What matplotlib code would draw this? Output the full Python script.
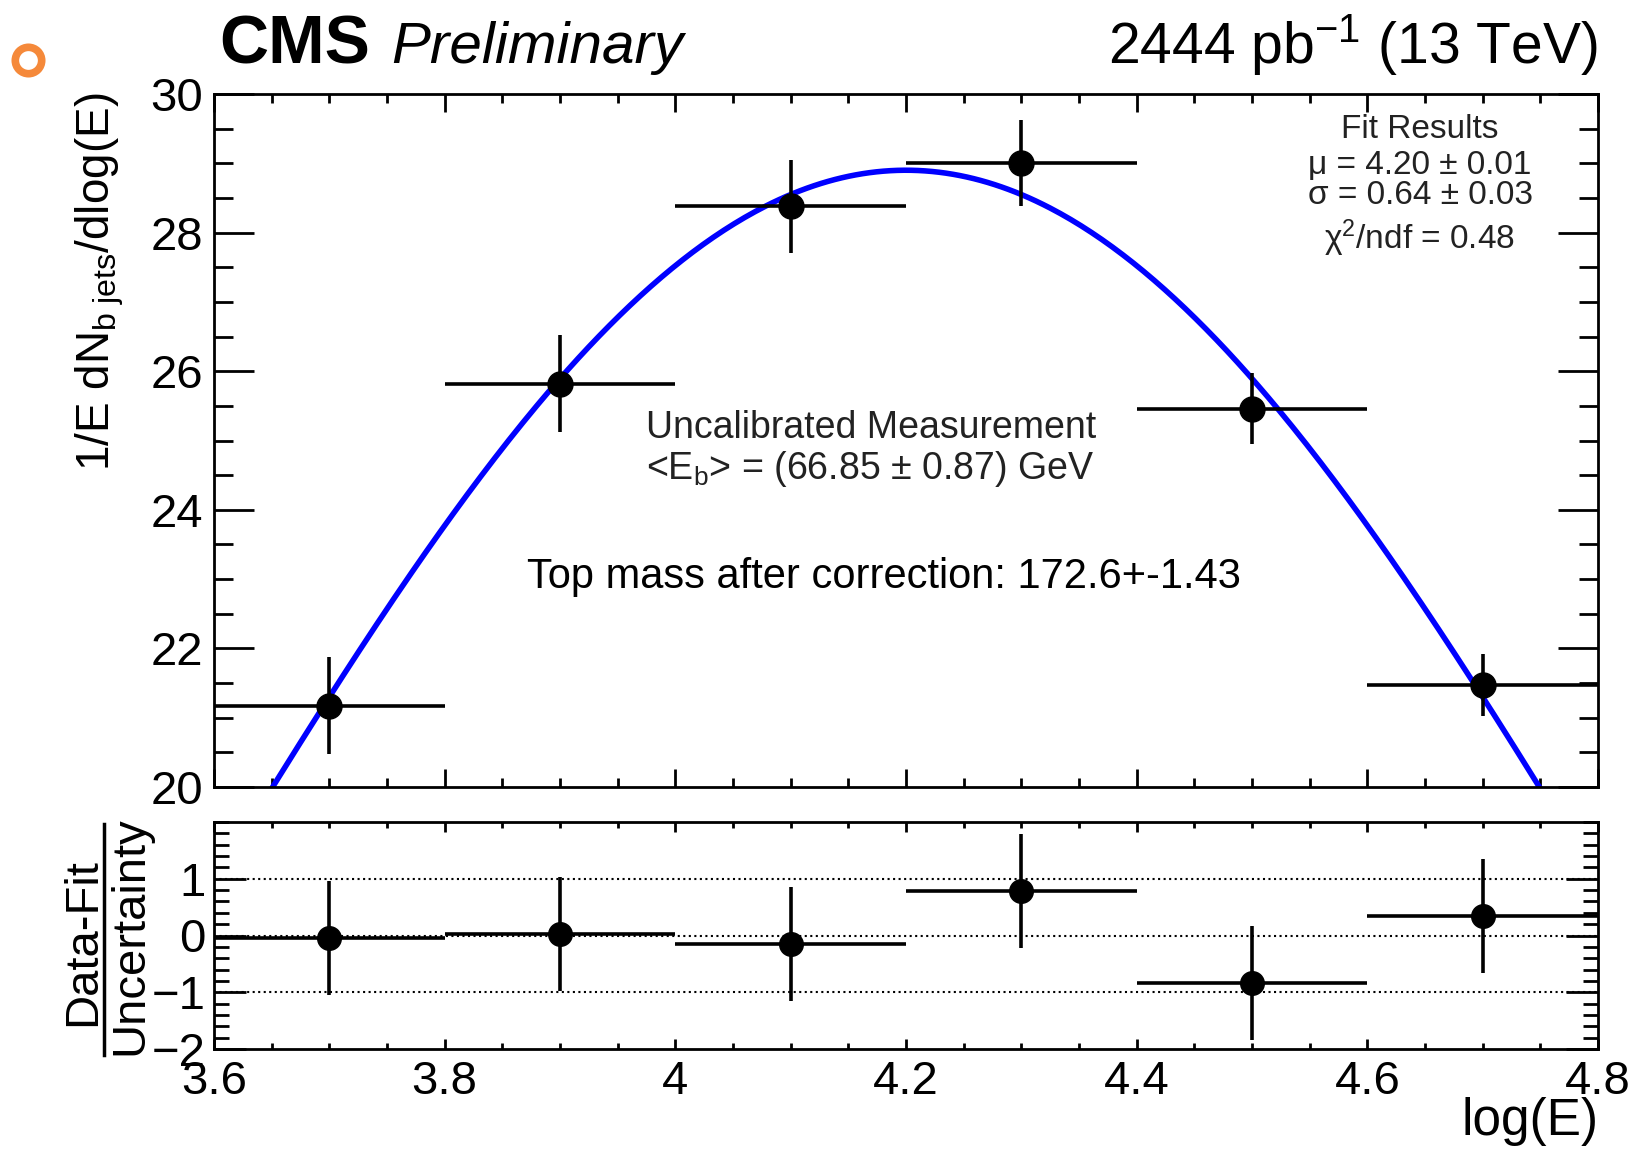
import numpy as np
import matplotlib
matplotlib.use("Agg")
import matplotlib.pyplot as plt
from matplotlib.lines import Line2D
from matplotlib.ticker import MultipleLocator

plt.rcParams['font.family'] = ['Liberation Sans', 'DejaVu Sans']
plt.rcParams['mathtext.fontset'] = 'custom'
plt.rcParams['mathtext.rm'] = 'Liberation Sans'
plt.rcParams['mathtext.it'] = 'Liberation Sans:italic'

# Daten
bin_centers = [3.7, 3.9, 4.1, 4.3, 4.5, 4.7]
bin_half_width = [0.1, 0.1, 0.1, 0.1, 0.1, 0.1]
dn_values = [21.17, 25.82, 28.38, 29.01, 25.46, 21.47]
dn_errors = [0.70, 0.70, 0.67, 0.62, 0.51, 0.45]
pulls = [-0.04, 0.03, -0.15, 0.78, -0.84, 0.34]
pull_errors = [1.0, 1.0, 1.0, 1.0, 1.0, 1.0]

# Fit-Parameter (Gauss)
fit_amp = 28.9
fit_mu = 4.20
fit_sigma = 0.64

W, H = 1635, 1152
fig = plt.figure(figsize=(W / 100, H / 100), dpi=100)

left, right = 214 / W, 1598 / W
ax = fig.add_axes([left, 1 - 787 / H, right - left, (787 - 94) / H])
axr = fig.add_axes([left, 1 - 1049 / H, right - left, (1049 - 822) / H])

# Hauptplot
xs = np.linspace(3.6, 4.8, 400)
ax.plot(xs, fit_amp * np.exp(-(xs - fit_mu) ** 2 / (2 * fit_sigma ** 2)),
        color='#0000ff', lw=4, zorder=2)
ax.errorbar(bin_centers, dn_values, xerr=bin_half_width, yerr=dn_errors,
            fmt='o', color='black', ms=18, elinewidth=2.6, capsize=0, zorder=3)
ax.set_xlim(3.6, 4.8)
ax.set_ylim(20, 30)
ax.xaxis.set_major_locator(MultipleLocator(0.2))
ax.xaxis.set_minor_locator(MultipleLocator(0.05))
ax.yaxis.set_major_locator(MultipleLocator(2))
ax.yaxis.set_minor_locator(MultipleLocator(0.5))
ax.tick_params(axis='both', which='both', direction='in', top=True, right=True,
               width=2, labelsize=34)
ax.tick_params(axis='x', which='major', length=13, labelbottom=False)
ax.tick_params(axis='x', which='minor', length=6.5)
ax.tick_params(axis='y', which='major', length=29, pad=8)
ax.tick_params(axis='y', which='minor', length=14)
ax.set_ylabel(r'1/E dN$_{\mathrm{b\ jets}}$/dlog(E)', fontsize=33, va='center')
ax.yaxis.set_label_coords(100 / W, 1 - 282 / H, transform=fig.transFigure)

# Ratio-Panel
for yl in [-1, 0, 1]:
    axr.axhline(yl, color='black', ls=':', lw=1.5, zorder=1)
axr.errorbar(bin_centers, pulls, xerr=bin_half_width, yerr=pull_errors,
             fmt='o', color='black', ms=17, elinewidth=2.6, capsize=0, zorder=3)
axr.set_xlim(3.6, 4.8)
axr.set_ylim(-2, 2)
axr.set_yticks([-2, -1, 0, 1])
axr.yaxis.set_minor_locator(MultipleLocator(0.2))
axr.xaxis.set_minor_locator(MultipleLocator(0.05))
axr.set_xticks([3.6, 3.8, 4.0, 4.2, 4.4, 4.6, 4.8])
axr.set_xticklabels(['3.6', '3.8', '4', '4.2', '4.4', '4.6', '4.8'])
axr.tick_params(axis='both', which='both', direction='in', top=True, right=True,
                width=2, labelsize=34)
axr.tick_params(axis='x', which='major', length=7, pad=8)
axr.tick_params(axis='x', which='minor', length=4)
axr.tick_params(axis='y', which='major', length=23, pad=6)
axr.tick_params(axis='y', which='minor', length=11)

for a in (ax, axr):
    for s in a.spines.values():
        s.set_linewidth(2)

# Ratio y-Label als Bruch
fig.text(83 / W, 1 - 942 / H, 'Data-Fit', rotation=90, fontsize=34,
         ha='center', va='center')
fig.text(130 / W, 1 - 936 / H, 'Uncertainty', rotation=90, fontsize=34,
         ha='center', va='center')
fig.add_artist(Line2D([104 / W, 104 / W], [1 - 824 / H, 1 - 1055 / H],
                      color='black', lw=2.5, transform=fig.transFigure))

fig.text(right, 1 - 1121 / H, 'log(E)', fontsize=37, ha='right', va='center')

# Kopfzeile
fig.text(219 / W, 1 - 63 / H, 'CMS', fontsize=49, fontweight='bold',
         ha='left', va='baseline')
fig.text(391 / W, 1 - 63 / H, 'Preliminary', fontsize=42, style='italic',
         ha='left', va='baseline')
fig.text(right, 1 - 63 / H, r'2444 pb$^{\mathrm{-1}}$ (13 TeV)', fontsize=41,
         ha='right', va='baseline')

# Fit-Ergebnisse
fit_lines = ['Fit Results', 'μ = 4.20 ± 0.01', 'σ = 0.64 ± 0.03',
             r'χ$^{\mathrm{2}}$/ndf = 0.48']
fit_y = [130, 165, 196, 238]
for txt, yy in zip(fit_lines, fit_y):
    fig.text(1420 / W, 1 - yy / H, txt, fontsize=24, color='#222222',
             ha='center', va='center')

fig.text(646 / W, 1 - 428 / H, 'Uncalibrated Measurement', fontsize=27,
         color='#222222', ha='left', va='center')
fig.text(646 / W, 1 - 469 / H, r'<E$_{\mathrm{b}}$> = (66.85 ± 0.87) GeV',
         fontsize=27, color='#222222', ha='left', va='center')
fig.text(884 / W, 1 - 577 / H, 'Top mass after correction: 172.6+-1.43',
         fontsize=30, ha='center', va='center')

# oranger Kreis oben links
fig.add_artist(Line2D([28 / W], [1 - 60 / H], marker='o', ms=19, mfc='none',
                      mec='#f5893a', mew=5.5, transform=fig.transFigure))

fig.savefig('out.png', dpi=100)
